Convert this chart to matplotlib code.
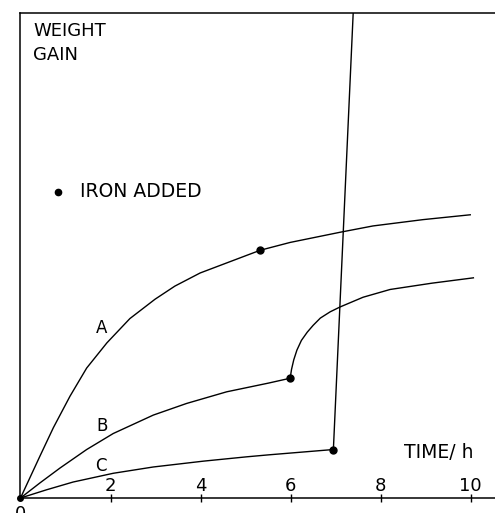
import matplotlib
matplotlib.use("Agg")
import matplotlib.pyplot as plt

plt.rcParams['font.family'] = ['DejaVu Sans']

# Weight gain curves (time in hours, weight gain in arbitrary units)
a_time = [0.0, 0.43, 0.73, 1.10, 1.47, 1.92, 2.43, 2.99, 3.43, 3.99, 5.10, 5.33, 5.99, 7.10, 7.83, 8.94, 9.99]
a_gain = [0.0, 0.86, 1.45, 2.10, 2.68, 3.20, 3.70, 4.10, 4.37, 4.64, 5.03, 5.11, 5.27, 5.48, 5.61, 5.74, 5.84]

b_time = [0.0, 0.43, 0.88, 1.47, 2.06, 2.95, 3.69, 4.58, 5.51, 5.99,
          6.02, 6.07, 6.14, 6.24, 6.37, 6.50, 6.66, 6.88, 7.10, 7.61, 8.21, 9.14, 10.06]
b_gain = [0.0, 0.31, 0.62, 1.00, 1.33, 1.71, 1.95, 2.19, 2.37, 2.47,
          2.65, 2.85, 3.05, 3.25, 3.42, 3.56, 3.71, 3.84, 3.94, 4.14, 4.30, 4.43, 4.54]

c_time = [0.0, 0.58, 1.17, 2.06, 2.95, 4.06, 5.03, 5.51, 6.95, 7.39]
c_gain = [0.0, 0.17, 0.33, 0.51, 0.64, 0.76, 0.85, 0.89, 1.00, 10.0]

# Points at which iron was added
iron_time = [5.33, 5.99, 6.95]
iron_gain = [5.11, 2.47, 1.00]

curve_labels = ['A', 'B', 'C']
label_x = [1.81, 1.81, 1.79]
label_y = [3.51, 1.48, 0.66]

tick_values = [2, 4, 6, 8, 10]
tick_labels = ['2', '4', '6', '8', '10']

fig = plt.figure(figsize=(4.95, 5.13), dpi=100)
ax = fig.add_axes([0.0414, 0.0292, 0.9586, 0.9454])
ax.set_xlim(0, 10.54)
ax.set_ylim(0, 10)

for side in ('left', 'bottom', 'top'):
    ax.spines[side].set_linewidth(1.1)
ax.spines['right'].set_visible(False)

ax.set_yticks([])
ax.set_xticks(tick_values)
ax.set_xticklabels([])
ax.tick_params(axis='x', direction='inout', length=6, width=1.0)

lw = 1.0
ax.plot(a_time, a_gain, color='black', lw=lw)
ax.plot(b_time, b_gain, color='black', lw=lw)
ax.plot(c_time, c_gain, color='black', lw=lw)
ax.plot(iron_time, iron_gain, 'o', color='black', markersize=5)
ax.plot([0], [0], 'o', color='black', markersize=4, clip_on=False)

for lab, x, y in zip(curve_labels, label_x, label_y):
    ax.text(x, y, lab, ha='center', va='center', fontsize=12)

for v, t in zip(tick_values, tick_labels):
    ax.text(v, 0.07, t, ha='center', va='bottom', fontsize=13)
ax.text(0, -0.14, '0', ha='center', va='top', fontsize=13, clip_on=False)

ax.text(0.28, 9.63, 'WEIGHT', ha='left', va='center', fontsize=13)
ax.text(0.28, 9.13, 'GAIN', ha='left', va='center', fontsize=13)

ax.plot([0.83], [6.31], 'o', color='black', markersize=4.5)
ax.text(1.32, 6.31, 'IRON ADDED', ha='left', va='center', fontsize=13.5)

ax.text(9.3, 0.93, 'TIME/ h', ha='center', va='center', fontsize=13.5)

fig.savefig('out.png', dpi=100)
